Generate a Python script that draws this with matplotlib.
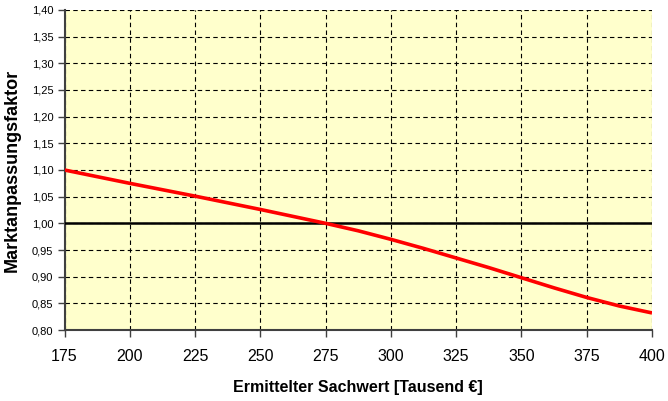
import matplotlib
matplotlib.use("Agg")
import matplotlib.pyplot as plt
from matplotlib.ticker import FuncFormatter

sachwert = [175, 200, 225, 250, 275, 287.5, 300, 312.5, 325, 337.5, 350, 362.5, 375, 387.5, 400]
faktor = [1.100, 1.075, 1.051, 1.026, 1.000, 0.986, 0.970, 0.953, 0.935, 0.917, 0.898, 0.879, 0.861, 0.845, 0.832]
x_ticks = [175, 200, 225, 250, 275, 300, 325, 350, 375, 400]
y_ticks = [0.80, 0.85, 0.90, 0.95, 1.00, 1.05, 1.10, 1.15, 1.20, 1.25, 1.30, 1.35, 1.40]
ref_level = 1.0

plt.rcParams['font.family'] = ['Liberation Sans', 'DejaVu Sans']

fig = plt.figure(figsize=(6.68, 4.01), dpi=100)
ax = fig.add_axes([64.5/668, 1-330/401, (652-64.5)/668, 320/401])
ax.set_facecolor('#FFFFCC')

ax.set_xlim(175, 400)
ax.set_ylim(0.80, 1.40)
ax.set_xticks(x_ticks)
ax.set_yticks(y_ticks)
ax.yaxis.set_major_formatter(FuncFormatter(lambda v, p: f"{v:.2f}".replace('.', ',')))

ax.grid(True, color='black', linestyle=(0, (4, 3)), linewidth=0.8)
ax.set_axisbelow(True)

ax.axhline(ref_level, color='black', linewidth=1.8, zorder=3)
ax.plot(sachwert, faktor, color='#FF0000', linewidth=2.6, zorder=4,
        solid_joinstyle='round', solid_capstyle='butt')

for s in ['top', 'right']:
    ax.spines[s].set_visible(False)
for s in ['left', 'bottom']:
    ax.spines[s].set_color('#404040')
    ax.spines[s].set_linewidth(1.5)

ax.tick_params(axis='y', labelsize=8, length=5, width=1, color='#404040', pad=3)
ax.tick_params(axis='x', labelsize=11.5, length=5, width=1, color='#404040', pad=9)

ax.set_xlabel('Ermittelter Sachwert [Tausend €]', fontsize=11.5, fontweight='bold', labelpad=11)
ax.set_ylabel('Marktanpassungsfaktor', fontsize=13, fontweight='bold', labelpad=8)

fig.savefig('out.png', dpi=100)
